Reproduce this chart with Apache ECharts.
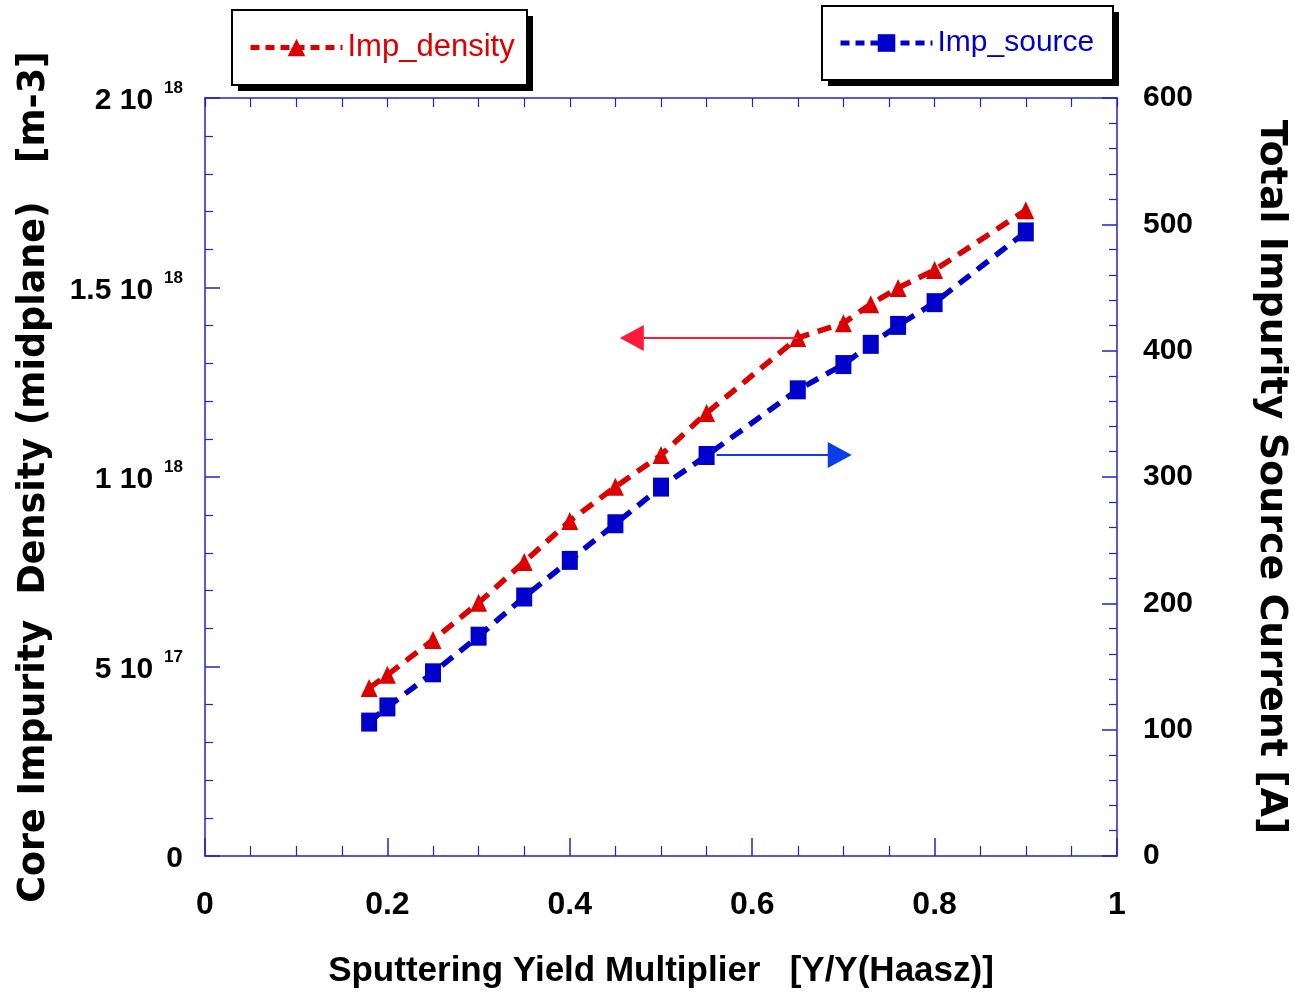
<!DOCTYPE html>
<html>
<head>
<meta charset="utf-8">
<script src="https://cdn.jsdelivr.net/npm/echarts@6/dist/echarts.min.js"></script>
<style>
html,body{margin:0;padding:0;background:#fff;}
#chart{width:1294px;height:996px;}
</style>
</head>
<body>
<div id="chart"></div>
<script>
// ---- data ----
var xValues = [0.18, 0.2, 0.25, 0.3, 0.35, 0.4, 0.45, 0.5, 0.55, 0.65, 0.7, 0.73, 0.76, 0.8, 0.9];
var impDensity = [0.443e18, 0.478e18, 0.570e18, 0.668e18, 0.776e18, 0.884e18, 0.974e18, 1.058e18, 1.169e18, 1.367e18, 1.406e18, 1.456e18, 1.499e18, 1.546e18, 1.704e18];
var impSource = [106, 118, 145, 174, 205, 234, 263, 292, 317, 369, 389, 405, 420, 438, 494];
var leftTickValues = [0, 5e17, 1e18, 1.5e18, 2e18];
var leftTickMantissa = ['0', '5 10', '1 10', '1.5 10', '2 10'];
var leftTickExponent = ['', '17', '18', '18', '18'];
var densityArrow = [[0.65, 1.367e18], [0.468, 1.367e18]];
var sourceArrow = [[0.561, 317.4], [0.696, 317.4]];

var SANS = "'Liberation Sans', Arial, sans-serif";
var WIDE = "'DejaVu Sans', 'Liberation Sans', sans-serif";
var AXIS_BLUE = '#2222cc';
var RED = '#dd0000';
var BLUE = '#0000cc';

function pairs(xs, ys) { return xs.map(function (x, i) { return [x, ys[i]]; }); }

function legendBox(x, y, w, h) {
  return [
    { type: 'rect', z: 0, silent: true, shape: { x: x + 6, y: y + 6, width: w, height: h }, style: { fill: '#000' } },
    { type: 'rect', z: 1, silent: true, shape: { x: x, y: y, width: w, height: h }, style: { fill: '#fff', stroke: '#000', lineWidth: 2 } }
  ];
}

var chart = echarts.init(document.getElementById('chart'));
var option = {
  animation: false,
  backgroundColor: '#ffffff',
  grid: { left: 205, right: 177, top: 98, bottom: 140, show: false, containLabel: false, outerBoundsMode: 'none' },
  graphic: legendBox(232, 10, 295, 75).concat(legendBox(822, 6, 291, 74)),
  legend: [
    {
      data: ['Imp_density'], left: 248, top: 32, z: 10,
      padding: 0, itemWidth: 92, itemHeight: 22, itemGap: 5,
      selectedMode: false,
      lineStyle: { width: 5, type: [9, 6] },
      textStyle: { color: RED, fontFamily: SANS, fontSize: 31, padding: [0, 0, 0, 0] }
    },
    {
      data: ['Imp_source'], left: 838, top: 28, z: 10,
      padding: 0, itemWidth: 92, itemHeight: 22, itemGap: 5,
      selectedMode: false,
      lineStyle: { width: 5, type: [9, 6] },
      textStyle: { color: BLUE, fontFamily: SANS, fontSize: 30, padding: [0, 0, 0, 0] }
    }
  ],
  xAxis: [
    {
      type: 'value', min: 0, max: 1, interval: 0.2, position: 'bottom',
      name: 'Sputtering Yield Multiplier   [Y/Y(Haasz)]', nameLocation: 'middle', nameGap: 98,
      nameTextStyle: { fontFamily: SANS, fontWeight: 'bold', fontSize: 35, color: '#000' },
      axisLine: { show: true, onZero: false, lineStyle: { color: AXIS_BLUE, width: 1.5 } },
      axisTick: { show: true, inside: true, length: 18, lineStyle: { color: AXIS_BLUE, width: 1.5 } },
      minorTick: { show: true, splitNumber: 4, length: 10, lineStyle: { color: AXIS_BLUE, width: 1.2 } },
      splitLine: { show: false },
      axisLabel: { margin: 33, fontFamily: SANS, fontWeight: 'bold', fontSize: 32, color: '#000',
        formatter: function (v) { return String(Math.round(v * 10) / 10); } }
    },
    {
      type: 'value', min: 0, max: 1, interval: 0.05, position: 'top',
      axisLine: { show: true, onZero: false, lineStyle: { color: AXIS_BLUE, width: 1.5 } },
      axisTick: { show: true, inside: true, length: 9, lineStyle: { color: AXIS_BLUE, width: 1.2 } },
      splitLine: { show: false },
      axisLabel: { show: false }
    }
  ],
  yAxis: [
    {
      type: 'value', min: 0, max: 2e18, interval: 5e17, position: 'left',
      name: 'Core Impurity  Density (midplane)   [m-3]', nameLocation: 'middle', nameGap: 152,
      nameTextStyle: { fontFamily: WIDE, fontWeight: 'bold', fontSize: 36.5, color: '#000' },
      axisLine: { show: true, onZero: false, lineStyle: { color: AXIS_BLUE, width: 1.5 } },
      axisTick: { show: true, inside: true, length: 15, lineStyle: { color: AXIS_BLUE, width: 1.5 } },
      minorTick: { show: true, splitNumber: 5, length: 8, lineStyle: { color: AXIS_BLUE, width: 1.2 } },
      splitLine: { show: false },
      axisLabel: {
        margin: 22, color: '#000',
        formatter: function (v) {
          var i = leftTickValues.indexOf(v);
          if (i < 0) return '';
          if (!leftTickExponent[i]) return '{a|' + leftTickMantissa[i] + '}';
          return '{a|' + leftTickMantissa[i] + '}{g| }{s|' + leftTickExponent[i] + '}';
        },
        rich: {
          a: { fontFamily: SANS, fontWeight: 'bold', fontSize: 30, lineHeight: 36, verticalAlign: 'bottom', color: '#000' },
          g: { fontFamily: SANS, fontSize: 16, width: 11, lineHeight: 36 },
          s: { fontFamily: SANS, fontWeight: 'bold', fontSize: 17, lineHeight: 17, verticalAlign: 'top', color: '#000' }
        }
      }
    },
    {
      type: 'value', min: 0, max: 600, interval: 100, position: 'right',
      name: 'Total Impurity Source Current [A]', nameLocation: 'middle', nameGap: 135, nameRotate: -90,
      nameTextStyle: { fontFamily: WIDE, fontWeight: 'bold', fontSize: 38, color: '#000' },
      axisLine: { show: true, onZero: false, lineStyle: { color: AXIS_BLUE, width: 1.5 } },
      axisTick: { show: true, inside: true, length: 15, lineStyle: { color: AXIS_BLUE, width: 1.5 } },
      minorTick: { show: true, splitNumber: 5, length: 8, lineStyle: { color: AXIS_BLUE, width: 1.2 } },
      splitLine: { show: false },
      axisLabel: { margin: 26, fontFamily: SANS, fontWeight: 'bold', fontSize: 30, color: '#000' }
    }
  ],
  series: [
    {
      name: 'Imp_density', type: 'line', xAxisIndex: 0, yAxisIndex: 0,
      data: pairs(xValues, impDensity),
      symbol: 'triangle', symbolSize: [17, 18],
      itemStyle: { color: RED },
      lineStyle: { color: RED, width: 5.5, type: [14, 9] },
      markLine: {
        silent: true, animation: false,
        symbol: ['none', 'triangle'], symbolSize: [26, 24],
        label: { show: false },
        lineStyle: { color: '#ff1a3c', width: 2, type: 'solid' },
        itemStyle: { color: '#ff1a3c' },
        data: [[{ coord: densityArrow[0] }, { coord: densityArrow[1] }]]
      }
    },
    {
      name: 'Imp_source', type: 'line', xAxisIndex: 0, yAxisIndex: 1,
      data: pairs(xValues, impSource),
      symbol: 'rect', symbolSize: [16, 19],
      itemStyle: { color: BLUE },
      lineStyle: { color: BLUE, width: 5.5, type: [14, 9] },
      markLine: {
        silent: true, animation: false,
        symbol: ['none', 'triangle'], symbolSize: [26, 24],
        label: { show: false },
        lineStyle: { color: '#0a3ee8', width: 2, type: 'solid' },
        itemStyle: { color: '#0a3ee8' },
        data: [[{ coord: sourceArrow[0] }, { coord: sourceArrow[1] }]]
      }
    }
  ]
};
chart.setOption(option);
</script>
</body>
</html>
